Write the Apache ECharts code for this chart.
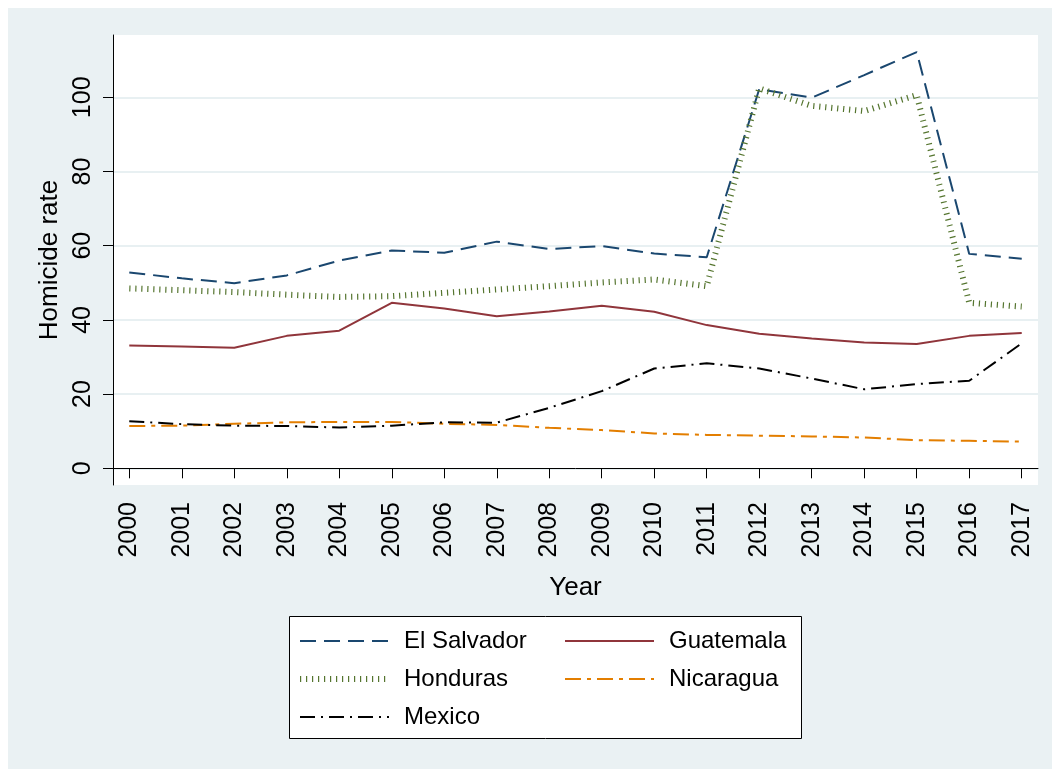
<!DOCTYPE html>
<html>
<head>
<meta charset="utf-8">
<script src="https://cdn.jsdelivr.net/npm/echarts@6/dist/echarts.min.js"></script>
<style>
html,body{margin:0;padding:0;background:#fff;}
#bg{position:absolute;left:8px;top:8px;width:1044px;height:761px;background:#EAF1F3;}
#c{position:absolute;left:0;top:0;width:1052px;height:769px;}
</style>
</head>
<body>
<div id="bg"></div>
<div id="c"></div>
<script>
const years = [2000,2001,2002,2003,2004,2005,2006,2007,2008,2009,2010,2011,2012,2013,2014,2015,2016,2017];
const yTicks = [0,20,40,60,80,100];
const elSalvador = [52.8,51.2,49.9,52.0,56.0,58.7,58.1,61.1,59.1,59.9,57.9,56.9,102.2,99.9,106.0,112.2,57.8,56.5];
const guatemala  = [33.1,32.8,32.5,35.7,37.1,44.6,43.1,41.0,42.3,43.8,42.2,38.6,36.3,35.0,33.9,33.5,35.7,36.5];
const honduras   = [48.5,48.0,47.5,46.8,46.2,46.4,47.3,48.2,49.1,50.1,50.9,49.1,102.4,97.7,96.3,100.6,44.6,43.6];
const nicaragua  = [11.4,11.5,12.0,12.4,12.5,12.5,12.0,11.7,10.9,10.3,9.4,9.0,8.8,8.6,8.3,7.6,7.4,7.2];
const mexico     = [12.7,11.9,11.5,11.4,11.0,11.5,12.4,12.3,16.3,20.8,26.9,28.3,26.9,24.2,21.3,22.7,23.6,33.7];

const FONT = '"Liberation Sans", Arial, sans-serif';
const pair = arr => years.map((y,i)=>[y,arr[i]]);

const chart = echarts.init(document.getElementById('c'), null, {renderer:'canvas'});
const mk = (name, data, color, width, dash) => ({
  name, type:'line', data: pair(data), symbol:'none', showSymbol:false,
  lineStyle:{color, width, type: dash, cap:'butt'}, itemStyle:{color},
  emphasis:{disabled:true}, animation:false
});

const legendCommon = {
  orient:'vertical', top:629, padding:0,
  itemWidth:89, itemHeight:14, itemGap:14, selectedMode:false,
  itemStyle:{color:'transparent', borderWidth:0, opacity:0},
  textStyle:{fontSize:24, color:'#000', fontFamily:FONT, lineHeight:24, padding:[0,0,0,10]}
};

chart.setOption({
  animation:false,
  backgroundColor:'transparent',
  textStyle:{fontFamily:FONT},
  grid:{left:113, top:35, right:14, bottom:284, show:true, backgroundColor:'#fff', borderWidth:0, containLabel:false, outerBoundsMode:'none'},
  xAxis:{
    type:'value', min:1999.69, max:2017.31,
    name:'Year', nameLocation:'middle', nameGap:90,
    nameTextStyle:{fontSize:26, color:'#000', fontFamily:FONT},
    axisLine:{show:true, lineStyle:{color:'#000', width:1}},
    axisTick:{show:true, length:10, lineStyle:{color:'#000', width:1}, customValues: years},
    axisLabel:{rotate:90, fontSize:25, color:'#000', margin:17, fontFamily:FONT, customValues: years, formatter: v=>String(v)},
    splitLine:{show:false}
  },
  yAxis:{
    type:'value', min:-4.5, max:116.8,
    name:'Homicide rate', nameLocation:'middle', nameGap:43,
    nameTextStyle:{fontSize:26, color:'#000', fontFamily:FONT},
    axisLine:{show:true, lineStyle:{color:'#000', width:1}},
    axisTick:{show:true, length:10, lineStyle:{color:'#000', width:1}, customValues: yTicks},
    axisLabel:{rotate:90, fontSize:25, color:'#000', margin:17, fontFamily:FONT, customValues: yTicks},
    splitLine:{show:true, lineStyle:{color:'#E8F0F2', width:2}}
  },
  legend:[
    Object.assign({data:['El Salvador',{name:'Honduras', lineStyle:{width:6, type:[1.2,4.8], color:'#55752F'}},'Mexico'], left:297}, legendCommon),
    Object.assign({data:['Guatemala','Nicaragua'], left:564}, legendCommon)
  ],
  graphic:[
    {type:'rect', shape:{x:289.5, y:616.5, width:512, height:122}, style:{fill:'#fff', stroke:'#000', lineWidth:1}, z:-1, silent:true}
  ],
  series:[
    mk('El Salvador', elSalvador, '#1A476F', 2, [16,8]),
    mk('Guatemala', guatemala, '#90353B', 2, 'solid'),
    mk('Honduras', honduras, '#55752F', 6, [1.2,4.8]),
    mk('Nicaragua', nicaragua, '#E37E00', 2, [16,6,4,6]),
    mk('Mexico', mexico, '#000000', 2, [15,6,2,6])
  ]
});
</script>
</body>
</html>
